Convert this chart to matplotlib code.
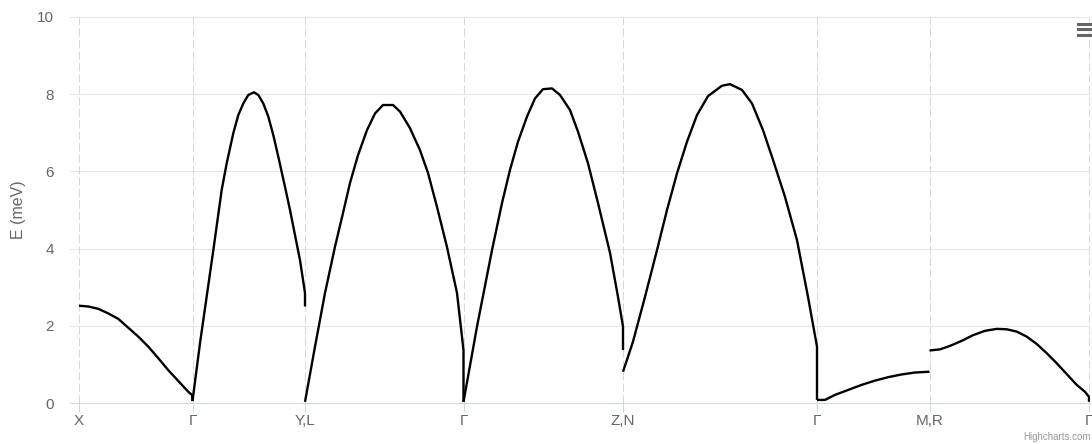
import matplotlib
matplotlib.use("Agg")
from matplotlib import pyplot as plt
from matplotlib.lines import Line2D

plt.rcParams["font.family"] = ["Liberation Sans", "DejaVu Sans"]

# high-symmetry points along the path
sym_k = [0, 1.135, 2.26, 3.845, 5.44, 7.38, 8.505, 10.10]
sym_labels = ["X", "Γ", "Y,L", "Γ", "Z,N", "Γ", "M,R", "Γ"]

# band segments (k, energy in meV)
seg1_k = [0, 0.093, 0.193, 0.293, 0.393, 0.493, 0.593, 0.693, 0.793, 0.893, 0.993,
          1.093, 1.13, 1.135]
seg1_e = [2.52, 2.50, 2.44, 2.32, 2.18, 1.95, 1.72, 1.46, 1.16, 0.85, 0.57, 0.29, 0.21, 0.05]

seg2_k = [1.135, 1.21, 1.34, 1.427, 1.477, 1.543, 1.593, 1.643, 1.693, 1.75, 1.793, 1.843,
          1.893, 1.943, 1.993, 2.06, 2.11, 2.21, 2.26, 2.26]
seg2_e = [0.05, 1.55, 3.90, 5.52, 6.21, 6.99, 7.46, 7.76, 7.98, 8.05, 7.98, 7.76,
          7.42, 6.94, 6.38, 5.60, 5.00, 3.70, 2.85, 2.50]

seg3_k = [2.26, 2.36, 2.46, 2.56, 2.64, 2.71, 2.79, 2.88, 2.96, 3.04, 3.14, 3.21, 3.31,
          3.41, 3.49, 3.58, 3.68, 3.78, 3.845, 3.845]
seg3_e = [0.03, 1.46, 2.85, 4.05, 4.92, 5.70, 6.42, 7.07, 7.50, 7.72, 7.72, 7.55, 7.12,
          6.55, 5.96, 5.08, 4.04, 2.85, 1.37, 0.03]

seg4_k = [3.845, 3.98, 4.13, 4.23, 4.31, 4.39, 4.48, 4.56, 4.64, 4.73, 4.81, 4.91, 4.99,
          5.09, 5.19, 5.31, 5.39, 5.44, 5.44]
seg4_e = [0.03, 1.98, 3.96, 5.18, 6.04, 6.77, 7.42, 7.89, 8.13, 8.15, 7.98, 7.59, 7.03,
          6.21, 5.18, 3.89, 2.75, 1.98, 1.37]

seg5_k = [5.44, 5.54, 5.66, 5.78, 5.88, 5.98, 6.08, 6.18, 6.29, 6.43, 6.51, 6.63, 6.73,
          6.84, 6.94, 7.06, 7.18, 7.29, 7.38, 7.38]
seg5_e = [0.81, 1.59, 2.75, 3.96, 5.00, 5.95, 6.77, 7.46, 7.95, 8.22, 8.26, 8.11, 7.76,
          7.07, 6.30, 5.34, 4.22, 2.75, 1.46, 0.08]

seg6_k = [7.38, 7.46, 7.56, 7.693, 7.827, 7.96, 8.093, 8.227, 8.36, 8.505]
seg6_e = [0.08, 0.08, 0.21, 0.34, 0.47, 0.58, 0.67, 0.74, 0.79, 0.81]

seg7_k = [8.505, 8.61, 8.71, 8.827, 8.943, 9.06, 9.177, 9.277, 9.377, 9.477, 9.577,
          9.677, 9.777, 9.877, 9.977, 10.06, 10.10, 10.10]
seg7_e = [1.36, 1.39, 1.48, 1.61, 1.76, 1.87, 1.92, 1.91, 1.85, 1.72, 1.53,
          1.29, 1.03, 0.75, 0.47, 0.29, 0.16, 0.03]

segments = [(seg1_k, seg1_e), (seg2_k, seg2_e), (seg3_k, seg3_e), (seg4_k, seg4_e),
            (seg5_k, seg5_e), (seg6_k, seg6_e), (seg7_k, seg7_e)]

fig = plt.figure(figsize=(10.92, 4.44), dpi=100)
ax = fig.add_axes([70 / 1092, 41 / 444, 1020 / 1092, 386 / 444])

# grid and symmetry lines
for y in [2, 4, 6, 8, 10]:
    ax.axhline(y, color="#e6e6e6", lw=0.75, zorder=0)
for k in sym_k:
    ax.axvline(k, color="#d8d8d8", lw=0.75, dashes=(8, 3), zorder=0)

for k, e in segments:
    ax.plot(k, e, color="black", lw=1.7, solid_joinstyle="round", solid_capstyle="butt",
            zorder=3)

ax.set_xlim(-0.09, 10.11)
ax.set_ylim(0, 10)
ax.set_xticks(sym_k)
ax.set_xticklabels(sym_labels)
ax.set_yticks([0, 2, 4, 6, 8, 10])

for side in ["top", "right", "left"]:
    ax.spines[side].set_visible(False)
ax.spines["bottom"].set_color("#ccd6eb")
ax.spines["bottom"].set_linewidth(0.75)

ax.tick_params(axis="x", colors="#ccd6eb", labelcolor="#666666", length=6.5, width=0.75,
               pad=1.2, labelsize=11)
ax.tick_params(axis="y", length=0, pad=11.5, labelcolor="#666666", labelsize=11)

ax.set_ylabel("E (meV)", color="#666666", fontsize=11.5)
ax.yaxis.set_label_coords(-0.043, 0.5)

# context menu icon and credits
for y in [24, 29.5, 35]:
    fig.add_artist(Line2D([1078 / 1092, 1.0], [(444 - y) / 444] * 2, color="#666666",
                          lw=2.2, transform=fig.transFigure))
fig.text(1091 / 1092, 7 / 444, "Highcharts.com", color="#999999", fontsize=7,
         ha="right", va="center")

fig.savefig("out.png", dpi=100)
